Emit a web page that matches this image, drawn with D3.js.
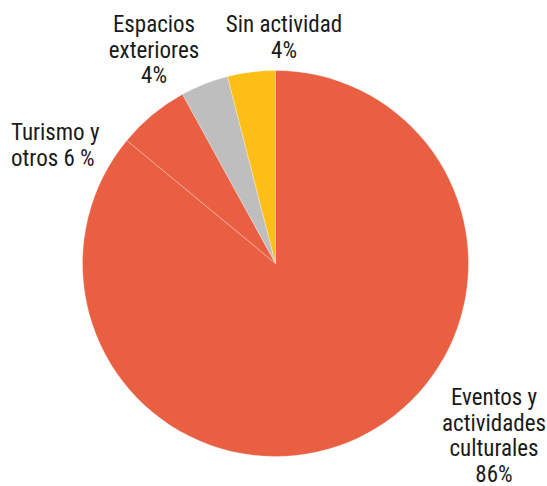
<!DOCTYPE html>
<html>
<head>
<meta charset="utf-8">
<script src="https://cdn.jsdelivr.net/npm/d3@7"></script>
<style>
  html, body { margin: 0; padding: 0; background: #fff; }
  svg text { font-family: "Liberation Sans Narrow", "Roboto Condensed", "Arial Narrow", sans-serif; font-size: 23px; fill: #1a1a1a; }
</style>
</head>
<body>
<svg id="chart" width="547" height="486"></svg>
<script>
// Share of activity types, clockwise from 12 o'clock
const categories = ["Eventos y actividades culturales", "Turismo y otros", "Espacios exteriores", "Sin actividad"];
const values = [86, 6, 4, 4];
const colors = ["#E95F42", "#E95F42", "#BEBEBE", "#FDBF16"];

// Label lines per slice (as printed)
const labelLines = [
  ["Eventos y", "actividades", "culturales", "86%"],
  ["Turismo y", "otros 6 %"],
  ["Espacios", "exteriores", "4%"],
  ["Sin actividad", "4%"]
];

const svg = d3.select("#chart");
const cx = 275.5, cy = 263.5, r = 193;

const pie = d3.pie().sort(null).value(d => d)(values);
const arc = d3.arc().innerRadius(0).outerRadius(r);

const g = svg.append("g").attr("transform", `translate(${cx},${cy})`);
g.selectAll("path")
  .data(pie)
  .join("path")
  .attr("d", arc)
  .attr("fill", (d, i) => colors[i])
  .attr("stroke", "#ffffff")
  .attr("stroke-opacity", 0.45)
  .attr("stroke-width", 0.6);

// Label placement: anchor x, first baseline, text anchor
const labelPos = [
  { x: 494, y: 405, anchor: "middle" },
  { x: 11,  y: 140, anchor: "start" },
  { x: 154, y: 32,  anchor: "middle" },
  { x: 284, y: 32,  anchor: "middle" }
];
const lineH = 25.5;

labelLines.forEach((lines, i) => {
  const p = labelPos[i];
  const t = svg.append("text")
    .attr("text-anchor", p.anchor)
    .attr("x", p.x)
    .attr("y", p.y);
  lines.forEach((ln, j) => {
    t.append("tspan").attr("x", p.x).attr("y", p.y + j * lineH).text(ln);
  });
});
</script>
</body>
</html>
